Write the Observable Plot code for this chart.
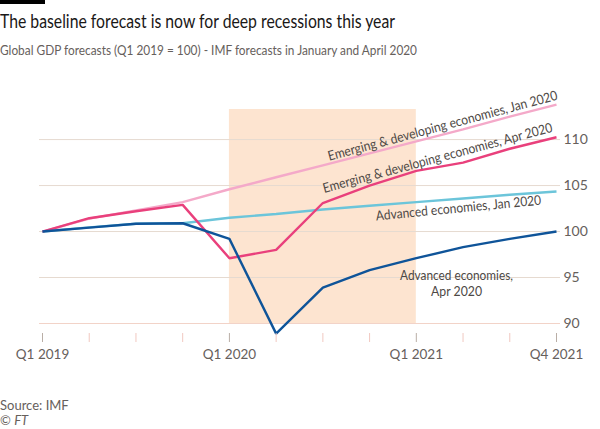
<!DOCTYPE html>
<html>
<head>
<meta charset="utf-8">
<script src="https://cdn.jsdelivr.net/npm/d3@7"></script>
<script src="https://cdn.jsdelivr.net/npm/@observablehq/plot@0.6"></script>
<style>
  html, body { margin: 0; padding: 0; background: #ffffff; }
  #wrap { position: relative; width: 600px; height: 429px; overflow: hidden; font-family: Lato, "Noto Sans", sans-serif; }
  #bar { position: absolute; left: 0; top: 0; width: 45px; height: 4px; background: #000; }
  #title { position: absolute; left: 0; top: 12px; font-size: 18.5px; line-height: 19px; color: #1a1817; white-space: nowrap; transform-origin: 0 0; }
  #subtitle { position: absolute; left: 0; top: 42px; font-size: 14px; line-height: 15px; color: #66605c; white-space: nowrap; transform-origin: 0 0; }
  #chart { position: absolute; left: 0; top: 60px; }
  #footer { position: absolute; left: 0; top: 398px; font-size: 13px; line-height: 15px; color: #66605c; }
</style>
</head>
<body>
<div id="wrap">
  <div id="bar"></div>
  <div id="title">The baseline forecast is now for deep recessions this year</div>
  <div id="subtitle">Global GDP forecasts (Q1 2019 = 100) - IMF forecasts in January and April 2020</div>
  <div id="chart"></div>
  <div id="footer">Source: IMF<br>© <i>FT</i></div>
</div>
<script>
// ---- data ----
const quarters = ["Q1 2019","Q2 2019","Q3 2019","Q4 2019","Q1 2020","Q2 2020","Q3 2020","Q4 2020","Q1 2021","Q2 2021","Q3 2021","Q4 2021"];
const tickLabels = ["Q1 2019","","","","Q1 2020","","","","Q1 2021","","","Q4 2021"];
const yTicks = [90, 95, 100, 105, 110];
const emergingJan = [100, 101.4, 102.3, 103.2, 104.6, 105.9, 107.2, 108.5, 109.8, 111.1, 112.5, 113.8];
const advancedJan = [100, 100.45, 100.85, 100.9, 101.5, 101.9, 102.4, 102.8, 103.2, 103.6, 104.0, 104.35];
const emergingApr = [100, 101.45, 102.2, 102.9, 97.1, 98.0, 103.1, 105.0, 106.6, 107.5, 109.0, 110.25];
const advancedApr = [100, 100.42, 100.84, 100.9, 99.2, 88.9, 93.9, 95.8, 97.1, 98.3, 99.2, 100.0];
const seriesNames = ["Emerging & developing economies, Jan 2020", "Advanced economies, Jan 2020", "Emerging & developing economies, Apr 2020", "Advanced economies, Apr 2020"];
const seriesColors = ["#f4a9c9", "#6cc5da", "#e9407c", "#0f5499"];
const shadeFrom = "Q1 2020", shadeTo = "Q1 2021";
const labelText = ["Emerging & developing economies, Jan 2020", "Emerging & developing economies, Apr 2020", "Advanced economies, Jan 2020", "Advanced economies,\nApr 2020"];
const labelAtQuarter = [8.56, 8.45, 8.9, 8.86];
const labelAtValue = [111.56, 108.07, 102.62, 94.46];
const labelAngle = [-15, -15, -5.5, 0];

// ---- styling config (text fitting, px) ----
const titleWidth = 395, subtitleWidth = 417;
const labelLineLengths = [[237], [237], [166], [113, 51]];

// ---- build tables ----
const allSeries = [emergingJan, advancedJan, emergingApr, advancedApr];
const rows = [];
allSeries.forEach((vals, s) => vals.forEach((v, i) => rows.push({i, v, series: seriesNames[s], color: seriesColors[s]})));
const yDomain = [90, 113.27];
const shade = [{x1: quarters.indexOf(shadeFrom), x2: quarters.indexOf(shadeTo), y1: yDomain[0], y2: yDomain[1]}];
const labels = labelText.map((t, k) => ({t, x: labelAtQuarter[k], y: labelAtValue[k], r: labelAngle[k]}));
const labeledIdx = tickLabels.map((t, i) => t ? i : -1).filter(i => i >= 0);
const plainIdx = tickLabels.map((t, i) => t ? -1 : i).filter(i => i >= 0);

const chart = Plot.plot({
  width: 600,
  height: 310,
  marginTop: 49,
  marginBottom: 47,
  marginLeft: 42,
  marginRight: 44,
  style: {fontFamily: "Lato, 'Noto Sans', sans-serif", background: "transparent", overflow: "visible"},
  x: {type: "linear", domain: [0, quarters.length - 1]},
  y: {domain: yDomain},
  marks: [
    Plot.rect(shade, {x1: "x1", x2: "x2", y1: "y1", y2: "y2", fill: "#fde4d0"}),
    Plot.ruleY(yTicks.slice(1), {stroke: "#e6dad0", strokeWidth: 1, insetLeft: -3, insetRight: -4}),
    Plot.ruleY([yTicks[0]], {stroke: "#f2d3c8", strokeWidth: 1, insetLeft: -3, insetRight: -4}),
    Plot.line(rows, {x: "i", y: "v", z: "series", stroke: "color", strokeWidth: 2.4, strokeLinejoin: "miter", strokeLinecap: "butt"}),
    Plot.text(labels, {x: "x", y: "y", text: "t", rotate: "r", fontSize: 13.5, fill: "#4d4845", lineHeight: 1.18, className: "line-labels"}),
    Plot.axisY({anchor: "right", ticks: yTicks, tickSize: 0, tickPadding: 7, fontSize: 14, color: "#66605c", label: null}),
    Plot.axisX({ticks: labeledIdx, tickFormat: i => tickLabels[i], tickSize: 9, dy: 10, tickPadding: 7, fontSize: 13.5, color: "#66605c", stroke: "#b9aea6", label: null}),
    Plot.axisX({ticks: plainIdx, tickFormat: () => "", tickSize: 9, dy: 10, tickPadding: 7, stroke: "#f1c8c0", label: null})
  ]
});
document.getElementById("chart").appendChild(chart);

// ---- fit text widths to the reference's narrower typeface ----
function fitHtml(id, target) {
  const el = document.getElementById(id);
  const w = el.getBoundingClientRect().width;
  if (w > 0) el.style.transform = `scaleX(${target / w})`;
}
fitHtml("title", titleWidth);
fitHtml("subtitle", subtitleWidth);

const labelTexts = chart.querySelectorAll("g.line-labels text, g[aria-label='text'] text");
labelTexts.forEach((t, k) => {
  const lens = labelLineLengths[k];
  if (!lens) return;
  const spans = t.querySelectorAll("tspan");
  if (spans.length > 1) {
    spans.forEach((sp, j) => { if (lens[j]) { sp.setAttribute("textLength", lens[j]); sp.setAttribute("lengthAdjust", "spacingAndGlyphs"); } });
  } else {
    t.setAttribute("textLength", lens[0]);
    t.setAttribute("lengthAdjust", "spacingAndGlyphs");
  }
});
</script>
</body>
</html>
